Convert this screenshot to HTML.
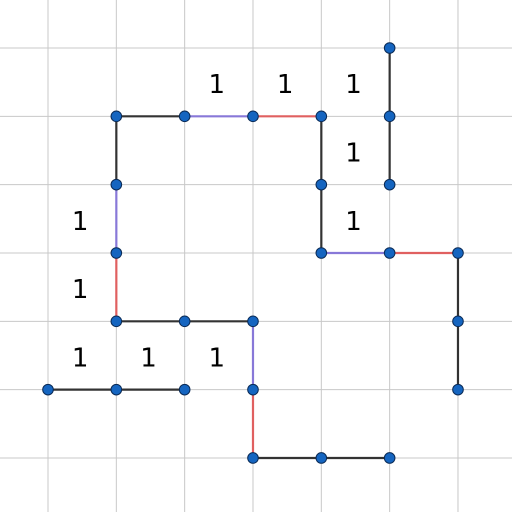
<!DOCTYPE html>
<html><head><meta charset="utf-8"><style>body{margin:0;background:#fff}svg{display:block}</style></head><body>
<svg id="c" width="512" height="512" xmlns="http://www.w3.org/2000/svg"></svg>
<script>
const edges=[[1,1,2,1,'k'],[2,1,3,1,'p'],[3,1,4,1,'r'],[4,1,4,2,'k'],[4,2,4,3,'k'],[4,3,5,3,'p'],[5,3,6,3,'r'],[6,3,6,4,'k'],[6,4,6,5,'k'],
[5,0,5,1,'k'],[5,1,5,2,'k'],
[1,1,1,2,'k'],[1,2,1,3,'p'],[1,3,1,4,'r'],[1,4,2,4,'k'],[2,4,3,4,'k'],[3,4,3,5,'p'],[3,5,3,6,'r'],[3,6,4,6,'k'],[4,6,5,6,'k'],
[0,5,1,5,'k'],[1,5,2,5,'k']];
const labels=[[2.5,0.5],[3.5,0.5],[4.5,0.5],[4.5,1.5],[4.5,2.5],[0.5,2.5],[0.5,3.5],[0.5,4.5],[1.5,4.5],[2.5,4.5]];
const s=document.getElementById('c'),NS='http://www.w3.org/2000/svg';
const X=v=>48+v*68.33,Y=v=>48+v*68.33;
const col={k:'#333',p:'#8878d8',r:'#e06060'};
function mk(t,a){const e=document.createElementNS(NS,t);for(const k in a)e.setAttribute(k,a[k]);s.appendChild(e);return e;}
for(let i=-1;i<=7;i++){
 const g=mk('line',{x1:X(i),y1:0,x2:X(i),y2:512,stroke:'#c8c8c8','stroke-width':1});
 
 
 const h=mk('line',{x1:0,y1:Y(i),x2:512,y2:Y(i),stroke:'#c8c8c8','stroke-width':1});
 
 
}
const pts={};
edges.forEach(e=>{
 const l=mk('line',{x1:X(e[0]),y1:Y(e[1]),x2:X(e[2]),y2:Y(e[3]),stroke:col[e[4]],'stroke-width':2.2});
 
 
 pts[e[0]+','+e[1]]=1;pts[e[2]+','+e[3]]=1;
});
Object.keys(pts).forEach(k=>{const [a,b]=k.split(',').map(Number);
 const c=mk('circle',{cx:X(a),cy:Y(b),r:5.3,fill:'#1565c0',stroke:'#0a2a55','stroke-width':1});
 
 
});
labels.forEach(p=>{
 const t=mk('text',{x:X(p[0])-2,y:Y(p[1])+11,'text-anchor':'middle','font-family':'DejaVu Sans, sans-serif','font-size':26,fill:'#000'});
 t.textContent='1';
 
 
});
</script>
</body></html>
